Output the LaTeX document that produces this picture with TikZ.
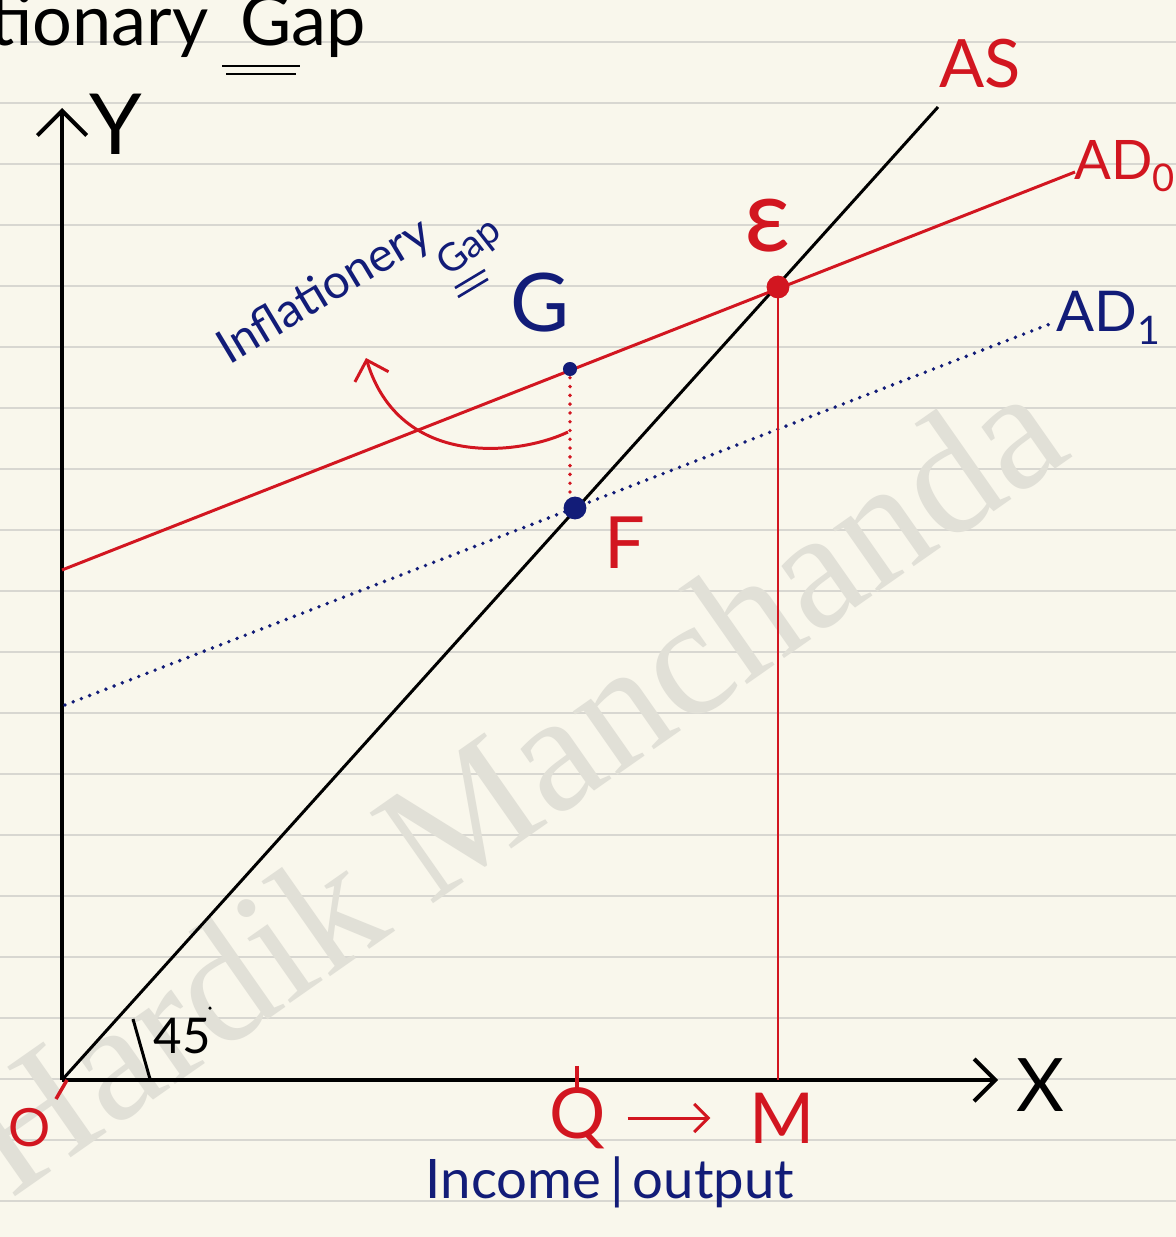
\documentclass[tikz,border=0pt]{standalone}
\usepackage{fontspec}
\setmainfont{Lato}
\newfontfamily\wmfont{Liberation Serif}
\usetikzlibrary{arrows.meta}

\definecolor{paper}{RGB}{249,247,236}
\definecolor{ruling}{RGB}{216,215,209}
\definecolor{wmgray}{RGB}{225,224,215}
\definecolor{penred}{RGB}{210,22,32}
\definecolor{penblue}{RGB}{18,28,120}

\newcommand{\penfs}[1]{\fontsize{#1}{#1}\selectfont}

\begin{document}
\begin{tikzpicture}[x=0.02cm, y=-0.02cm,
    >={Straight Barb[length=14pt,width=28pt]},
    axis/.style={line width=2.3pt, black},
    curve/.style={line width=1.7pt},
    dotline/.style={line width=2.2pt, line cap=round, dash pattern=on 0pt off 5pt},
    lbl/.style={inner sep=0pt}]

    % Ruled notebook page
    \fill[paper] (0,0) rectangle (1176,1237);
    \useasboundingbox (0,0) rectangle (1176,1237);
    \foreach \k in {0,...,19}
        \draw[ruling, line width=1.2pt] (0,42+61*\k) -- (1176,42+61*\k);

    % Watermark
    \node[lbl, text=wmgray, rotate=35] (wm) at (510,780)
        {\wmfont\penfs{96}Hardik Manchanda};

    % Heading, cut at the left edge
    \node[lbl, anchor=base east] (title) at (366,46) {\penfs{40}Inflationary\hspace{18pt}Gap};
    \draw[line width=1.7pt] (222,66) -- (300,66);
    \draw[line width=1.7pt] (226,74) -- (296,74);

    % Points of the diagram
    \coordinate (O) at (62,1080);
    \coordinate (ytop) at (62,108);
    \coordinate (xend) at (998,1080);
    \coordinate (astop) at (938,107);
    \coordinate (adzl) at (62,570);
    \coordinate (adzr) at (1075,172);
    \coordinate (adol) at (65,705);
    \coordinate (ador) at (1055,322);
    \coordinate (E) at (778,287);
    \coordinate (G) at (570,369);
    \coordinate (F) at (575,508);
    \coordinate (Q) at (577,1080);
    \coordinate (M) at (778,1080);

    % Axes
    \draw[axis, ->] (O) -- (ytop);
    \draw[axis, ->, >={Straight Barb[length=12pt,width=24pt]}] (O) -- (xend);
    \node[lbl] (ylbl) at (116,124) {\penfs{48}Y};
    \node[lbl] (xlbl) at (1040,1085) {\penfs{42}X};
    \node[lbl, text=penred] (olbl) at (30,1128) {\penfs{30}O};
    \draw[penred, line width=2pt] ([shift={(5,0)}]O) -- ++(-11,19);

    % 45 degree AS line
    \draw[curve] (O) -- (astop);
    \node[lbl, text=penred] (aslbl) at (980,64) {\penfs{38}AS};
    \draw[line width=1.7pt] (133,1019) -- (150,1079);
    \node[lbl] (ang) at (182,1036) {\penfs{28}45};
    \fill (210,1008) circle (1pt);

    % Aggregate demand lines
    \draw[penred, curve] (adzl) -- (adzr);
    \node[lbl, text=penred, anchor=west] (adzlbl) at (1074,166) {\penfs{31}AD\textsubscript{0}};
    \draw[penblue, dotline] (adol) -- (ador);
    \node[lbl, text=penblue, anchor=west] (adollbl) at (1056,318) {\penfs{32}AD\textsubscript{1}};

    % Equilibrium and gap
    \draw[penred, line width=1.5pt] (E) -- (M);
    \draw[penred, dotline] (G) -- (G |- F);
    \fill[penred] (E) circle (6.5pt);
    \fill[penblue] (G) circle (4pt);
    \fill[penblue] (F) circle (6.5pt);
    \node[lbl, text=penred] (elbl) at (768,226) {\penfs{58}ε};
    \node[lbl, text=penblue] (glbl) at (540,303) {\penfs{46}G};
    \node[lbl, text=penred] (flbl) at (625,543) {\penfs{41}F};

    % Gap label with curved pointer
    \node[lbl, text=penblue, rotate=31] (infl) at (325,292) {\penfs{27}Inflationery};
    \node[lbl, text=penblue, rotate=38] (gapw) at (470,248) {\penfs{22}Gap};
    \draw[penblue, line width=1.5pt] (455,288) -- (485,270);
    \draw[penblue, line width=1.5pt] (458,297) -- (488,279);
    \coordinate (cs) at (568,432);
    \coordinate (ce) at (366,358);
    \draw[penred, curve, ->, >={Straight Barb[length=10pt,width=20pt]}]
        (cs) .. controls (520,455) and (400,470) .. (ce);

    % Output axis marks
    \draw[penred, line width=2.3pt] ([yshift=8pt]Q) -- ([yshift=-6pt]Q);
    \node[lbl, text=penred] (qlbl) at (578,1118) {\penfs{40}Q};
    \node[lbl, text=penred] (mlbl) at (782,1118) {\penfs{40}M};
    \draw[penred, curve, ->, >={Straight Barb[length=8pt,width=16pt]},
        shorten <=12pt, shorten >=22pt] (qlbl.east) -- (mlbl.west);
    \node[lbl, text=penblue] (inc) at (610,1182) {\penfs{31}Income\,|\,output};
\end{tikzpicture}
\end{document}
